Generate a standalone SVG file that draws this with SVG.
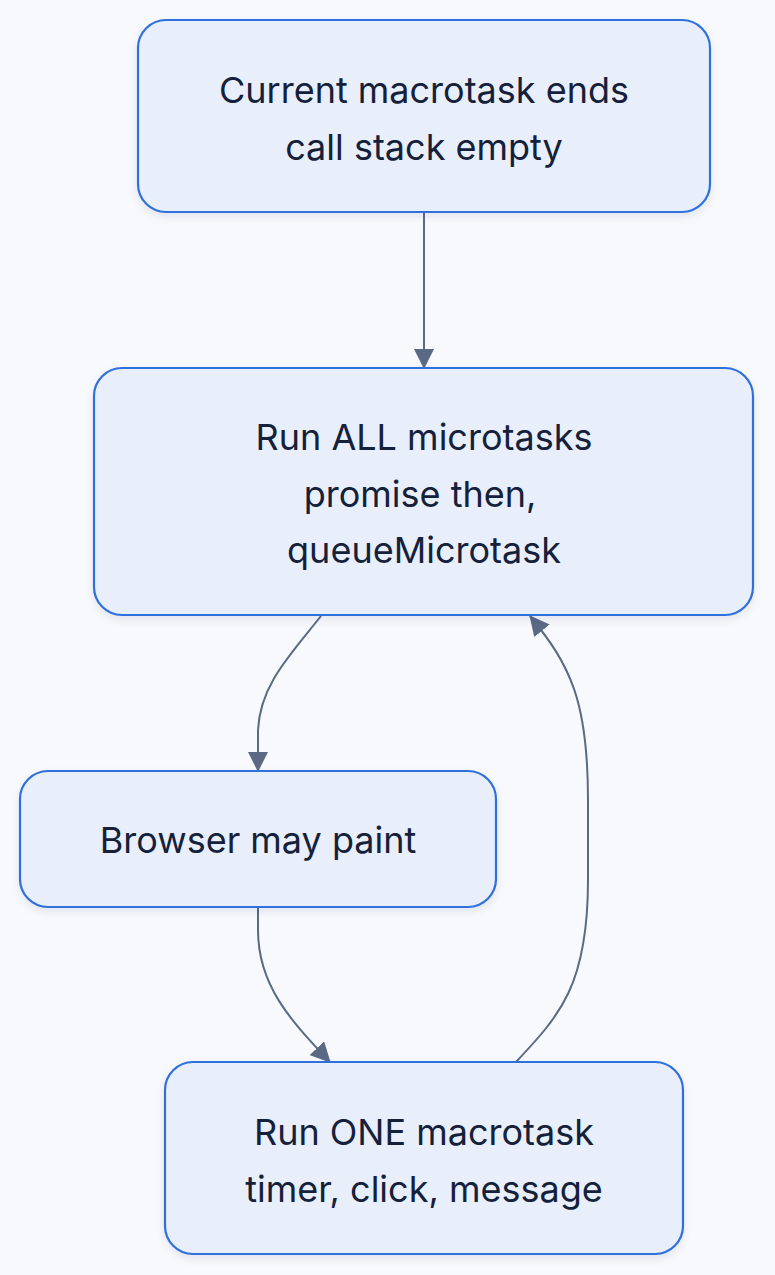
<svg xmlns="http://www.w3.org/2000/svg" width="775" height="1275" viewBox="0 0 775 1275">
<defs>
<style>
.node rect{fill:#e8effb;stroke:#2f6fdc;stroke-width:2.2;filter:url(#sh)}
.node text{font-family:Inter,"Liberation Sans",sans-serif;font-size:36px;fill:#15213b;text-anchor:middle}
.edge{fill:none;stroke:#5a6a85;stroke-width:2}
</style>
<filter id="sh" x="-10%" y="-10%" width="120%" height="130%">
<feDropShadow dx="0" dy="4" stdDeviation="4" flood-color="#1a2a50" flood-opacity="0.08"/>
</filter>
<marker id="a" viewBox="0 0 20 20" refX="19" refY="10" markerWidth="20" markerHeight="20" markerUnits="userSpaceOnUse" orient="auto">
<path d="M0,0 L20,10 L0,20 z" fill="#5a6a85"/>
</marker>
</defs>
<rect width="775" height="1275" fill="#f7f9fc"/>
<g id="edges">
<path class="edge" d="M424,212 L424,368" marker-end="url(#a)"/>
<path class="edge" d="M321,616 C290,655 260,685 258,730 L258,771" marker-end="url(#a)"/>
<path class="edge" d="M258,907 L258,930 C258,985 290,1020 330,1062" marker-end="url(#a)"/>
<path class="edge" d="M516,1062 C560,1015 588,985 588,880 L588,800 C588,700 570,665 530,616" marker-end="url(#a)"/>
</g>
<g id="n1" class="node">
<rect x="138" y="20" width="572" height="192" rx="28"/>
<text x="424" y="103">Current macrotask ends</text>
<text x="424" y="160">call stack empty</text>
</g>
<g id="n2" class="node">
<rect x="94" y="368" width="659" height="247" rx="28"/>
<text x="424" y="450">Run ALL microtasks</text>
<text x="420" y="507">promise then,</text>
<text x="424" y="563">queueMicrotask</text>
</g>
<g id="n3" class="node">
<rect x="20" y="771" width="476" height="136" rx="28"/>
<text x="258" y="853">Browser may paint</text>
</g>
<g id="n4" class="node">
<rect x="165" y="1062" width="518" height="192" rx="28"/>
<text x="424" y="1145">Run ONE macrotask</text>
<text x="424" y="1202">timer, click, message</text>
</g>
</svg>
